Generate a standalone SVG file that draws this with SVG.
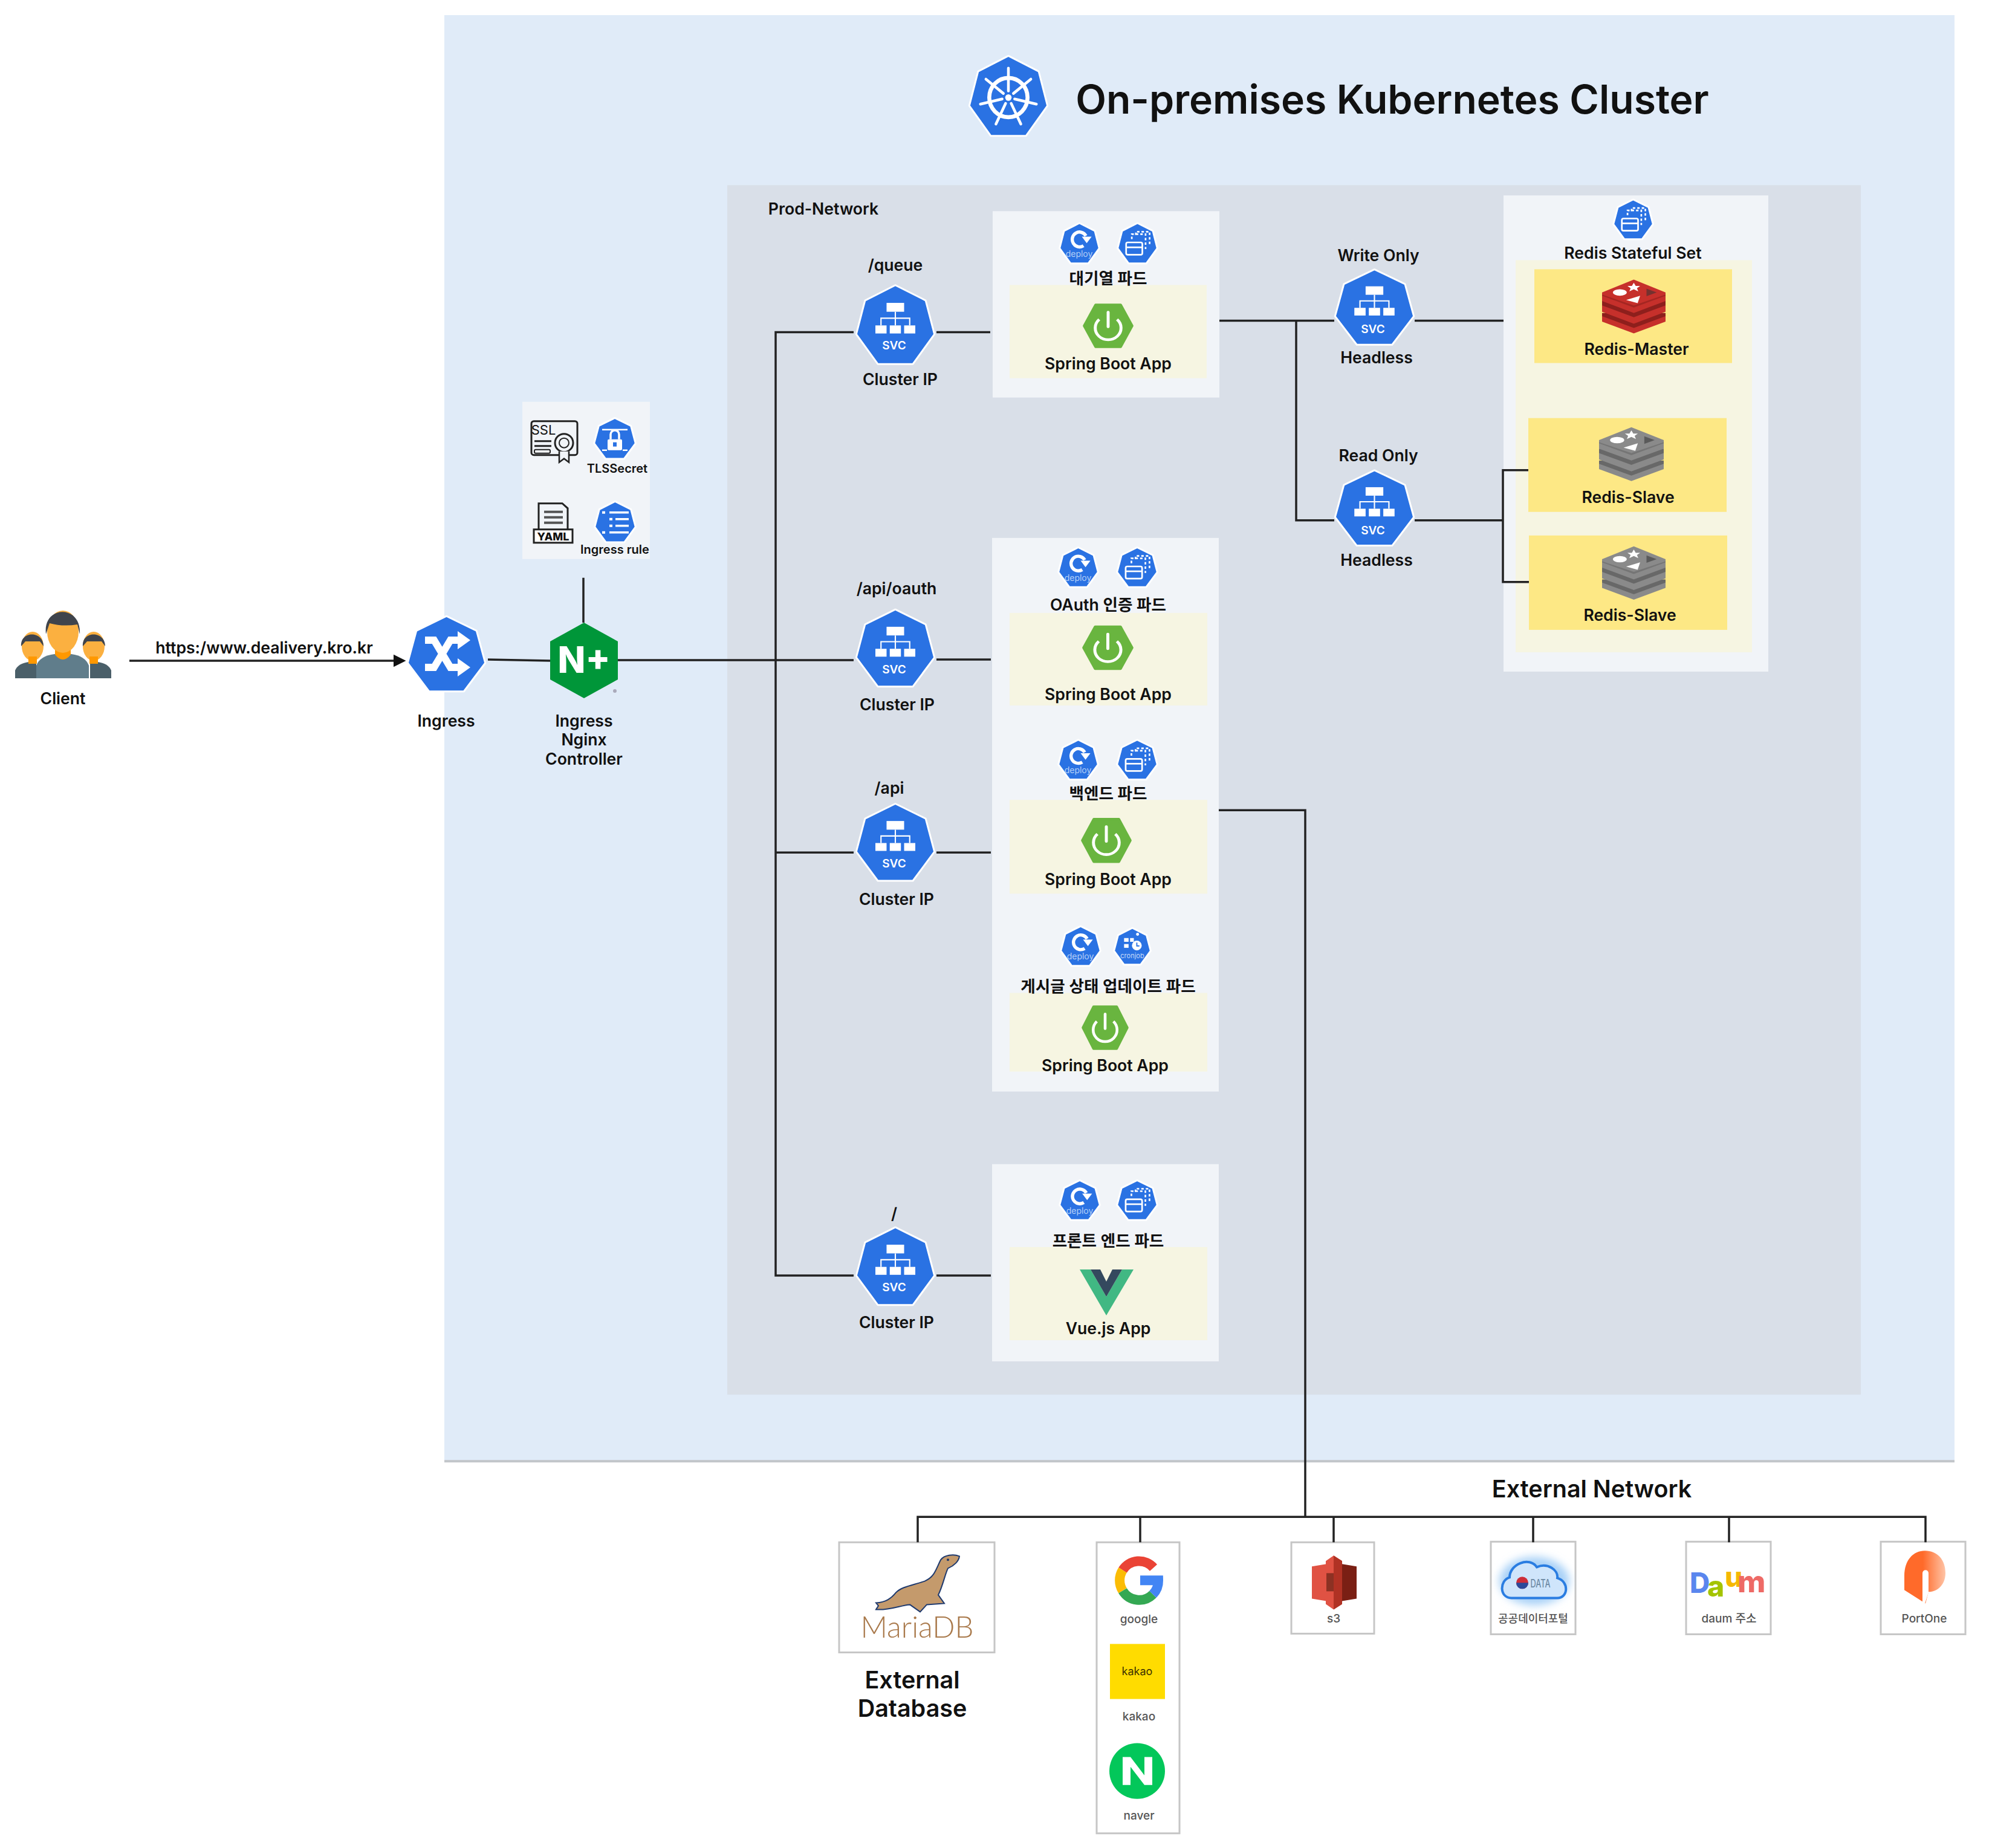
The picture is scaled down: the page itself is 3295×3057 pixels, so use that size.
<svg xmlns="http://www.w3.org/2000/svg" width="3295" height="3057" viewBox="0 0 3295 3057">
<style>
text{font-family:Inter,"Noto Sans CJK KR","Noto Sans",sans-serif;text-anchor:middle;font-weight:600;fill:#111}
.l{font-size:26.6px}.xs{font-size:20px}.ext{font-size:39.5px}.gray{font-size:19px;font-weight:500;fill:#555}
.svc{font-size:19px;fill:#fff}.dep{font-size:14px;font-weight:400;fill:#b5d0f7}.cron{font-size:11px;font-weight:400;fill:#c5dafa}
.pod{fill:#f1f4f8}.app{fill:#f6f5e2}.ry{fill:#fde885}
.ebox{fill:#fff;stroke:#c6c6c6;stroke-width:3}
.c{fill:none;stroke:#222;stroke-width:3.5}
.hex{fill:#2a72e3;stroke:#fff;stroke-width:3;stroke-linejoin:round;vector-effect:non-scaling-stroke}
.w{fill:#fff}.ws{fill:none;stroke:#fff}
.rm{fill:var(--m)}.rd{fill:var(--d)}
symbol{overflow:visible}
</style>
<defs>
<marker id="arrow" markerWidth="6" markerHeight="6" refX="5" refY="3" orient="auto"><path d="M0,0L6,3L0,6Z" fill="#111"/></marker>
<symbol id="hept" viewBox="0 0 100 100" preserveAspectRatio="none"><polygon class="hex" points="50,1 88,20 99,62 72,99 28,99 1,62 12,20"/></symbol>
<symbol id="svcI" viewBox="0 0 100 100" preserveAspectRatio="none">
<polygon class="hex" points="50,1 88,20 99,62 72,99 28,99 1,62 12,20"/>
<rect class="w" x="39" y="23" width="22" height="11"/><rect class="w" x="25" y="51" width="14" height="10"/><rect class="w" x="43" y="51" width="14" height="10"/><rect class="w" x="61" y="51" width="14" height="10"/>
<path class="ws" stroke-width="1.6" d="M50,34V51M32,51V42H68V51"/>
</symbol>
<symbol id="deployI" viewBox="0 0 100 100" preserveAspectRatio="none">
<polygon class="hex" points="50,1 88,20 99,62 72,99 28,99 1,62 12,20"/>
<path class="ws" stroke-width="8" d="M60,56A18,18 0 1 1 66,32"/><path class="w" d="M56,34H80L68,50Z"/>
</symbol>
<symbol id="podI" viewBox="0 0 100 100" preserveAspectRatio="none">
<polygon class="hex" points="50,1 88,20 99,62 72,99 28,99 1,62 12,20"/>
<rect class="ws" stroke-width="4" x="22" y="48" width="40" height="30" rx="4"/><path class="ws" stroke-width="4" d="M22,60H62"/>
<path class="ws" stroke-width="4" stroke-dasharray="6 5" d="M36,40V28H70V64M46,30V22H80V54"/>
</symbol>
<symbol id="cronI" viewBox="0 0 100 100" preserveAspectRatio="none">
<polygon class="hex" points="50,1 88,20 99,62 72,99 28,99 1,62 12,20"/>
<rect class="w" x="28" y="28" width="12" height="10"/><rect class="w" x="28" y="44" width="12" height="10"/><rect class="w" x="44" y="28" width="10" height="10"/><circle class="w" cx="64" cy="18" r="4"/>
<circle class="w" cx="62" cy="48" r="13"/><path d="M62,40V49H69" fill="none" stroke="#2a72e3" stroke-width="3"/>
</symbol>
<symbol id="springI" viewBox="0 0 100 100" preserveAspectRatio="none">
<polygon points="2,50 25,4 75,4 98,50 75,96 25,96" fill="#69b53f" stroke="#69b53f" stroke-width="6" stroke-linejoin="round"/>
<path class="ws" stroke-width="6" d="M32,36A26,26 0 1 0 68,36"/><path class="ws" stroke-width="6" stroke-linecap="round" d="M50,20V52"/>
</symbol>
<symbol id="redisI" viewBox="0 0 100 100" preserveAspectRatio="none">
<path class="rm" d="M0,66V78L50,100L100,78V66Z"/><path class="rd" d="M0,68L50,90L100,68V62H0Z"/>
<path class="rm" d="M0,46V60L50,82L100,60V46Z"/><path class="rd" d="M0,48L50,70L100,48V40H0Z"/>
<path class="rm" d="M0,24V40L50,62L100,40V24L50,0Z"/><path class="rd" d="M0,30L50,52L100,30V28L50,48L0,28Z" opacity=".6"/>
<ellipse class="w" cx="28" cy="24" rx="11" ry="6"/><polygon class="w" points="50,6 53,12 60,12 55,16 57,22 50,18 43,22 45,16 40,12 47,12"/>
<polygon class="w" points="38,38 60,30 56,44"/><polygon points="70,17 86,24 70,31" fill="#333" opacity=".55"/>
</symbol>
<symbol id="wheelI" viewBox="0 0 100 100" preserveAspectRatio="none">
<polygon class="hex" points="50,1 88,20 99,62 72,99 28,99 1,62 12,20"/>
<circle class="ws" cx="50" cy="52" r="24" stroke-width="5"/><circle class="w" cx="50" cy="52" r="4"/>
<g class="ws" stroke-width="3.4" stroke-linecap="round">
<path d="M50,44V16"/><path d="M50,44V16" transform="rotate(51.4 50 52)"/><path d="M50,44V16" transform="rotate(102.9 50 52)"/><path d="M50,44V16" transform="rotate(154.3 50 52)"/><path d="M50,44V16" transform="rotate(205.7 50 52)"/><path d="M50,44V16" transform="rotate(257.1 50 52)"/><path d="M50,44V16" transform="rotate(308.6 50 52)"/>
</g>
</symbol>
<linearGradient id="po" x1="0" x2="1" y1="0" y2="0"><stop offset=".45" stop-color="#ff6a2a"/><stop offset="1" stop-color="#ffc4a6"/></linearGradient>
<filter id="blur" x="-30%" y="-30%" width="160%" height="160%"><feGaussianBlur stdDeviation="7"/></filter>
</defs>
<g transform="scale(1 1.0009)">
<g id="k8s-cluster">
<rect x="735" y="2411" width="2498" height="6" fill="#c2c6ca"/>
<rect x="735" y="25" width="2498" height="2388" fill="#e0ebf8"/>
</g>
<g id="prod-network">
<rect x="1203" y="306" width="1875" height="1999" fill="#d9dfe8"/>
<text class="l" x="1362" y="355">Prod-Network</text>
</g>
<g id="title">
<use href="#wheelI" x="1602" y="91" width="132" height="135"/>
<text x="2303" y="188" style="font-size:66px">On-premises Kubernetes Cluster</text>
</g>

<g id="client">
<ellipse cx="54" cy="1068" rx="18" ry="24" fill="#fbb040"/><path d="M35,1068C33,1042 72,1042 72,1068L66,1060H42Z" fill="#3f444c"/>
<ellipse cx="155" cy="1068" rx="18" ry="24" fill="#fbb040"/><path d="M137,1068C135,1042 174,1042 174,1068L168,1060H144Z" fill="#3f444c"/>
<path d="M25,1121V1108Q30,1096 48,1094H60V1121Z" fill="#4a5f69"/><path d="M184,1121V1108Q179,1096 161,1094H149V1121Z" fill="#4a5f69"/>
<rect x="47" y="1085" width="14" height="12" fill="#ff9800"/><rect x="148" y="1085" width="14" height="12" fill="#ff9800"/>
<path d="M60,1121V1100Q66,1084 90,1081H118Q141,1084 147,1100V1121Z" fill="#607d8b"/>
<path d="M91,1068H117V1082Q104,1098 91,1082Z" fill="#ff9800"/>
<ellipse cx="104" cy="1044" rx="26" ry="35" fill="#fbb040"/><path d="M76,1048C70,1000 135,998 132,1048L128,1032Q104,1036 82,1030Z" fill="#3f444c"/>
<text class="l" x="104" y="1164">Client</text>
</g>
<g id="url-label"><text class="l" x="437" y="1080">https:/www.dealivery.kro.kr</text></g>

<g id="ingress">
<use href="#hept" x="673" y="1017" width="131" height="127"/>
<path class="ws" stroke-width="12" d="M703,1058H718L745,1103H760M703,1103H718L745,1058H760"/>
<path class="w" d="M757,1043L778,1058L757,1073ZM757,1088L778,1103L757,1118Z"/>
<text class="l" x="738" y="1201">Ingress</text>
</g>
<g id="ingress-nginx">
<polygon points="966,1029 1022,1060 1022,1123 966,1154 910,1123 910,1060" fill="#009639"/>
<text x="966" y="1112" style="font-size:60px;font-weight:800;fill:#fff">N+</text>
<circle cx="1017" cy="1142" r="3" fill="#aab"/>
<text class="l" x="966" y="1201">Ingress</text><text class="l" x="966" y="1232">Nginx</text><text class="l" x="966" y="1264">Controller</text>
</g>
<g id="ingress-config">
<rect class="pod" x="864" y="664" width="211" height="260"/>
<rect x="879" y="696" width="76" height="56" rx="4" fill="none" stroke="#222" stroke-width="3"/>
<text x="899" y="718" style="font-size:22px;font-weight:400">SSL</text>
<path d="M884,729H912M884,737H912" stroke="#222" stroke-width="3"/><rect x="884" y="743" width="26" height="6" rx="2" fill="none" stroke="#222" stroke-width="2"/>
<circle cx="933" cy="732" r="15" fill="#f1f4f8" stroke="#222" stroke-width="3"/><circle cx="933" cy="732" r="8" fill="none" stroke="#222" stroke-width="2"/>
<path d="M925,746V764L933,758L941,764V746" fill="#f1f4f8" stroke="#222" stroke-width="2.5"/>
<use href="#hept" x="982" y="690" width="70" height="69"/>
<rect class="w" x="1005" y="726" width="24" height="18" rx="2"/><path class="ws" stroke-width="3.5" d="M1010,726V718A7,7 0 0 1 1024,718V726"/><rect x="1014" y="731" width="6" height="7" fill="#2a72e3"/>
<path class="ws" stroke-width="2.5" d="M996,710H1038M996,744H1004M1030,744H1038"/>
<text class="xs" x="1021" y="781">TLSSecret</text>
<path d="M891,876V832H930L939,840V876" fill="none" stroke="#222" stroke-width="3"/>
<path d="M900,846H931M900,855H931M900,864H931" stroke="#555" stroke-width="4"/>
<rect x="883" y="875" width="64" height="22" fill="#fff" stroke="#222" stroke-width="3"/>
<text x="915" y="893" style="font-size:18px;font-weight:800">YAML</text>
<use href="#hept" x="983" y="828" width="69" height="69"/>
<path class="ws" stroke-width="3.5" d="M1008,847H1040M1018,858H1040M1018,869H1040M1008,880H1040"/><rect class="w" x="996" y="845" width="5" height="4"/><rect class="w" x="1008" y="856" width="5" height="4"/><rect class="w" x="1008" y="867" width="5" height="4"/><rect class="w" x="996" y="878" width="5" height="4"/>
<text class="xs" x="1017" y="915">Ingress rule</text>
</g>

<g id="svc-queue">
<text class="l" x="1481" y="448">/queue</text>
<use href="#svcI" x="1415" y="470" width="132" height="133"/>
<text class="svc" x="1479" y="577">SVC</text>
<text class="l" x="1489" y="636">Cluster IP</text>
</g>
<g id="svc-oauth">
<text class="l" x="1483" y="982">/api/oauth</text>
<use href="#svcI" x="1415" y="1006" width="132" height="130"/>
<text class="svc" x="1479" y="1113">SVC</text>
<text class="l" x="1484" y="1174">Cluster IP</text>
</g>
<g id="svc-api">
<text class="l" x="1471" y="1312">/api</text>
<use href="#svcI" x="1415" y="1327" width="132" height="130"/>
<text class="svc" x="1479" y="1434">SVC</text>
<text class="l" x="1483" y="1496">Cluster IP</text>
</g>
<g id="svc-front">
<text class="l" x="1479" y="2015">/</text>
<use href="#svcI" x="1415" y="2027" width="132" height="131"/>
<text class="svc" x="1479" y="2134">SVC</text>
<text class="l" x="1483" y="2195">Cluster IP</text>
</g>

<g id="pod-queue">
<rect class="pod" x="1642" y="349" width="375" height="308"/>
<rect class="app" x="1670" y="471" width="326" height="154"/>
<use href="#deployI" x="1752" y="368" width="67" height="68"/><text class="dep" x="1785" y="425">deploy</text>
<use href="#podI" x="1848" y="368" width="67" height="68"/>
<text class="l" x="1833" y="470">대기열 파드</text>
<use href="#springI" x="1792" y="501" width="82" height="75"/>
<text class="l" x="1833" y="610">Spring Boot App</text>
</g>
<g id="pods-backend">
<rect class="pod" x="1641" y="889" width="375" height="915"/>
<rect class="app" x="1670" y="1013" width="327" height="153"/>
<use href="#deployI" x="1750" y="904" width="67" height="67"/><text class="dep" x="1783" y="960">deploy</text>
<use href="#podI" x="1847" y="904" width="68" height="67"/>
<text class="l" x="1833" y="1009">OAuth 인증 파드</text>
<use href="#springI" x="1791" y="1033" width="83" height="75"/>
<text class="l" x="1833" y="1157">Spring Boot App</text>
<rect class="app" x="1670" y="1322" width="327" height="155"/>
<use href="#deployI" x="1750" y="1222" width="67" height="67"/><text class="dep" x="1783" y="1278">deploy</text>
<use href="#podI" x="1847" y="1222" width="68" height="67"/>
<text class="l" x="1833" y="1321">백엔드 파드</text>
<use href="#springI" x="1789" y="1351" width="82" height="76"/>
<text class="l" x="1833" y="1463">Spring Boot App</text>
<rect class="app" x="1670" y="1641" width="327" height="130"/>
<use href="#deployI" x="1754" y="1530" width="67" height="67"/><text class="dep" x="1787" y="1586">deploy</text>
<use href="#cronI" x="1842" y="1533" width="62" height="62"/><text class="cron" x="1873" y="1584">cronjob</text>
<text class="l" x="1833" y="1640">게시글 상태 업데이트 파드</text>
<use href="#springI" x="1790" y="1661" width="76" height="75"/>
<text class="l" x="1828" y="1770">Spring Boot App</text>
</g>
<g id="pod-front">
<rect class="pod" x="1641" y="1924" width="375" height="326"/>
<rect class="app" x="1670" y="2061" width="327" height="154"/>
<use href="#deployI" x="1752" y="1950" width="68" height="67"/><text class="dep" x="1786" y="2006">deploy</text>
<use href="#podI" x="1847" y="1950" width="68" height="67"/>
<text class="l" x="1833" y="2060">프론트 엔드 파드</text>
<polygon points="1786,2098 1804,2098 1830,2143 1856,2098 1875,2098 1830,2174" fill="#41b883"/>
<polygon points="1804,2098 1820,2098 1830,2118 1840,2098 1856,2098 1830,2143" fill="#34495e"/>
<text class="l" x="1833" y="2205">Vue.js App</text>
</g>

<g id="svc-write">
<text class="l" x="2280" y="432">Write Only</text>
<use href="#svcI" x="2207" y="444" width="133" height="127"/>
<text class="svc" x="2271" y="551">SVC</text>
<text class="l" x="2277" y="600">Headless</text>
</g>
<g id="svc-read">
<text class="l" x="2280" y="762">Read Only</text>
<use href="#svcI" x="2207" y="776" width="133" height="127"/>
<text class="svc" x="2271" y="883">SVC</text>
<text class="l" x="2277" y="935">Headless</text>
</g>
<g id="redis-set">
<rect class="pod" x="2487" y="323" width="438" height="787"/>
<rect class="app" x="2507" y="430" width="391" height="648"/>
<use href="#podI" x="2668" y="329" width="67" height="67"/>
<text class="l" x="2701" y="428">Redis Stateful Set</text>
<g id="redis-master">
<rect class="ry" x="2538" y="445" width="327" height="155"/>
<use href="#redisI" x="2650" y="462" width="105" height="89" style="--m:#c6302b;--d:#8e1f1c"/>
<text class="l" x="2707" y="586">Redis-Master</text>
</g>
<g id="redis-slave-1">
<rect class="ry" x="2528" y="691" width="328" height="155"/>
<use href="#redisI" x="2645" y="706" width="107" height="89" style="--m:#8a8a8a;--d:#686868"/>
<text class="l" x="2693" y="831">Redis-Slave</text>
</g>
<g id="redis-slave-2">
<rect class="ry" x="2529" y="885" width="328" height="156"/>
<use href="#redisI" x="2650" y="903" width="105" height="88" style="--m:#8a8a8a;--d:#686868"/>
<text class="l" x="2696" y="1026">Redis-Slave</text>
</g>
</g>

<g id="external-network-label"><text class="ext" x="2633" y="2475">External Network</text></g>
<g id="mariadb">
<rect class="ebox" x="1388" y="2549" width="257" height="182"/>
<path d="M1587,2572C1577,2568 1562,2570 1556,2578C1548,2594 1546,2606 1530,2613C1510,2620 1492,2622 1482,2632C1474,2642 1465,2648 1449,2649L1453,2654L1449,2660C1470,2662 1490,2653 1505,2652L1522,2664L1533,2652L1562,2650L1552,2636C1560,2620 1563,2602 1568,2592C1578,2588 1586,2580 1587,2572Z" fill="#c49a6c" stroke="#1f3a6e" stroke-width="2"/>
<circle cx="1568" cy="2578" r="2" fill="#1f3a6e"/>
<text x="1517" y="2707" style="font-size:49px;font-family:Lato,sans-serif;font-weight:300;fill:#a9794b">MariaDB</text>
<text class="ext" x="1509" y="2790">External</text><text class="ext" x="1509" y="2837">Database</text>
</g>
<g id="oauth-providers">
<rect class="ebox" x="1814" y="2549" width="137" height="481"/>
<g fill="none" stroke-width="16">
<path stroke="#ea4335" d="M1857,2595A32,32 0 0 1 1908,2591"/>
<path stroke="#fbbc05" d="M1857,2595A32,32 0 0 0 1857,2629"/>
<path stroke="#34a853" d="M1857,2629A32,32 0 0 0 1907,2635"/>
<path stroke="#4285f4" d="M1907,2635A32,32 0 0 0 1916,2612H1886"/>
</g>
<text class="gray" x="1884" y="2683">google</text>
<rect x="1836" y="2717" width="91" height="91" fill="#ffdc00"/>
<text x="1881" y="2769" style="font-size:18px;font-weight:400;fill:#3c3000">kakao</text>
<text class="gray" x="1884" y="2843">kakao</text>
<circle cx="1881" cy="2927" r="46" fill="#03c75a"/>
<path class="w" d="M1857,2904H1870L1893,2934V2904H1906V2950H1893L1870,2920V2950H1857Z"/>
<text class="gray" x="1884" y="3007">naver</text>
</g>
<g id="s3">
<rect class="ebox" x="2136" y="2549" width="137" height="151"/>
<polygon points="2170,2589 2194,2585 2194,2646 2170,2642" fill="#e05243"/>
<polygon points="2244,2589 2220,2585 2220,2646 2244,2642" fill="#7a1f14"/>
<polygon points="2206,2571 2220,2580 2220,2651 2206,2660 2193,2651 2193,2580" fill="#e05243"/>
<polygon points="2206,2571 2220,2580 2220,2651 2206,2660" fill="#b03224"/>
<rect x="2194" y="2600" width="12" height="30" fill="#8c3123"/>
<text class="gray" x="2206" y="2682">s3</text>
</g>
<g id="data-portal">
<rect class="ebox" x="2466" y="2548" width="140" height="153"/>
<ellipse cx="2538" cy="2613" rx="58" ry="40" fill="#a9d1f7" filter="url(#blur)"/>
<path d="M2500,2641C2480,2641 2480,2612 2497,2607C2497,2585 2530,2572 2542,2590C2560,2582 2578,2595 2576,2608C2596,2614 2594,2641 2576,2641Z" fill="#cfe5fb" stroke="#2a7de1" stroke-width="4"/>
<circle cx="2518" cy="2616" r="10" fill="#cd2e3a"/><path d="M2508,2616A10,10 0 0 0 2528,2616Z" fill="#2b4a9b"/>
<text x="2548" y="2624" textLength="33" lengthAdjust="spacingAndGlyphs" style="font-size:18px;font-weight:500;fill:#6d8aa5">DATA</text>
<text class="gray" x="2536" y="2682" style="font-size:18px">공공데이터포털</text>
</g>
<g id="daum">
<rect class="ebox" x="2789" y="2548" width="140" height="153"/>
<text style="font-weight:800;text-anchor:start"><tspan x="2795" y="2633" style="font-size:46px;fill:#5a86ee">D</tspan><tspan x="2824" y="2639" style="font-size:48px;fill:#a4c400">a</tspan><tspan x="2853" y="2623" style="font-size:46px;fill:#f5b800">u</tspan><tspan x="2874" y="2632" style="font-size:50px;fill:#ee6a66">m</tspan></text>
<text class="gray" x="2860" y="2682">daum 주소</text>
</g>
<g id="portone">
<rect class="ebox" x="3111" y="2548" width="140" height="153"/>
<path d="M3150,2605C3150,2578 3165,2563 3184,2563C3205,2563 3218,2578 3218,2600C3218,2618 3206,2631 3190,2631L3185,2650L3150,2628Z" fill="url(#po)"/>
<path d="M3180,2650V2600A5,5 0 0 1 3190,2600V2632L3184,2650Z" fill="#fff"/>
<text class="gray" x="3183" y="2682">PortOne</text>
</g>

<g id="connectors">
<path class="c" marker-end="url(#arrow)" d="M214,1092H668"/>
<path class="c" d="M807,1090L910,1092M1022,1091H1412M965,955V1029"/>
<path class="c" d="M1412,549H1283V2108H1412M1283,1409H1412"/>
<path class="c" d="M1549,549H1638M1549,1090H1639M1549,1409H1639M1549,2108H1639"/>
<path class="c" d="M2017,530H2207M2340,530H2487M2144,530V860H2207M2340,860H2486M2528,777H2486V962H2529"/>
<path class="c" d="M2016,1339H2159V2507M1518,2549V2507H3185V2549M1886,2507V2549M2206,2507V2549M2536,2507V2549M2860,2507V2549"/>
</g>
</g>
</svg>
